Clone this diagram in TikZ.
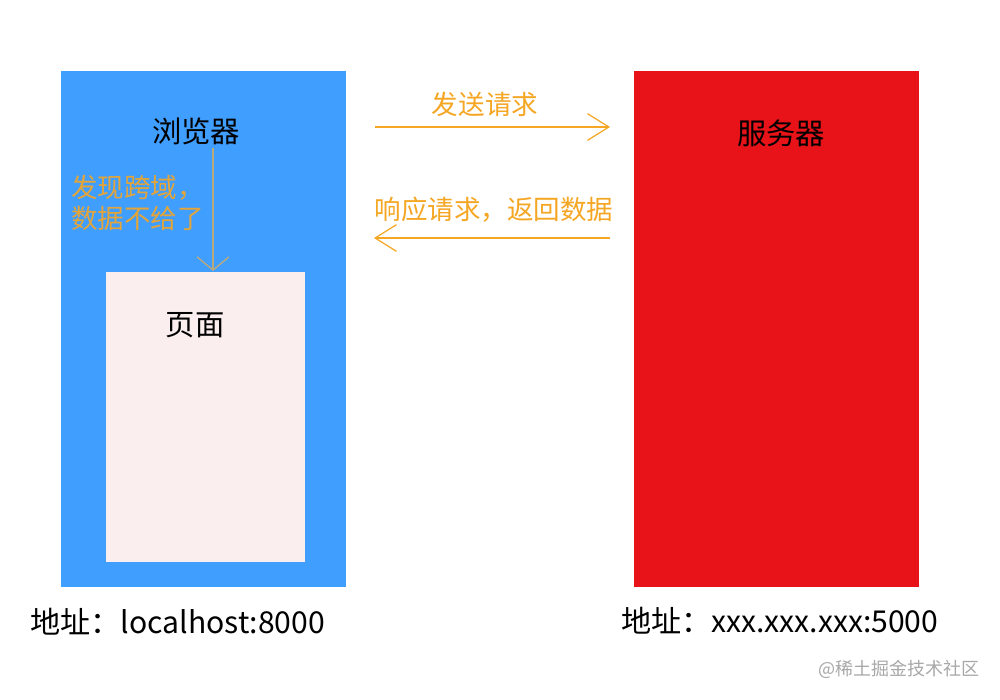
\documentclass[tikz,border=0pt]{standalone}
\usepackage{fontspec}
\setmainfont{Noto Sans CJK SC}
\usetikzlibrary{arrows.meta}
\definecolor{bblue}{HTML}{409EFF}
\definecolor{sred}{HTML}{E81319}
\definecolor{pagec}{HTML}{FAEEEE}
\definecolor{orangec}{HTML}{F5A623}
\definecolor{grayarrow}{HTML}{BBA97E}
\definecolor{wm}{HTML}{A8A8A8}
\begin{document}
\begin{tikzpicture}[x=0.75pt,y=-0.75pt,
  box/.style={draw=none,inner sep=0pt,anchor=north west},
  lbl/.style={inner sep=0pt,font=\fontsize{22pt}{26pt}\selectfont},
  albl/.style={inner sep=0pt,font=\fontsize{22.6pt}{26pt}\selectfont},
  olbl/.style={inner sep=0pt,text=orangec,font=\fontsize{19.9pt}{23.5pt}\selectfont},
  conn/.style={draw=orangec,line width=0.9pt,-{Straight Barb[length=16pt,width=20pt,line width=0.9pt]}},
  vconn/.style={draw=grayarrow,line width=1pt,-{Straight Barb[length=10pt,width=24pt,line width=1pt]}}]
\useasboundingbox (0,0) rectangle (1000,700);
\fill[white] (0,0) rectangle (1000,700);
\fill[bblue] (61,71) rectangle (346,587);
\fill[sred] (634,71) rectangle (919,587);
\fill[pagec] (106,272) rectangle (305,562);
\coordinate (pagetop) at (213,271);
\node[lbl] (browser) at (196,131) {浏览器};
\node[lbl] (page) at (195,325) {页面};
\node[lbl] (server) at (781,133) {服务器};
\node[olbl,anchor=west,align=left,text=orangec!90!bblue] (cors) at (71,203) {发现跨域，\\数据不给了};
\coordinate (vstart) at (213,148);
\draw[vconn] (vstart) -- (pagetop);
\coordinate (reqA) at (375,127);
\coordinate (reqB) at (610,127);
\coordinate (resA) at (610,238);
\coordinate (resB) at (374,238);
\draw[conn] (reqA) -- (reqB);
\draw[conn] (resA) -- (resB);
\node[olbl] (reqlbl) at (485,104) {发送请求};
\node[olbl] (reslbl) at (494,210) {响应请求，返回数据};
\node[albl,anchor=west] (addr1) at (30,622) {地址：localhost:8000};
\node[albl,anchor=west] (addr2) at (621,621) {地址：xxx.xxx.xxx:5000};
\node[inner sep=0pt,anchor=east,text=wm,font=\fontsize{13.5pt}{16pt}\selectfont] (wmk) at (980,669) {@稀土掘金技术社区};
\end{tikzpicture}
\end{document}
